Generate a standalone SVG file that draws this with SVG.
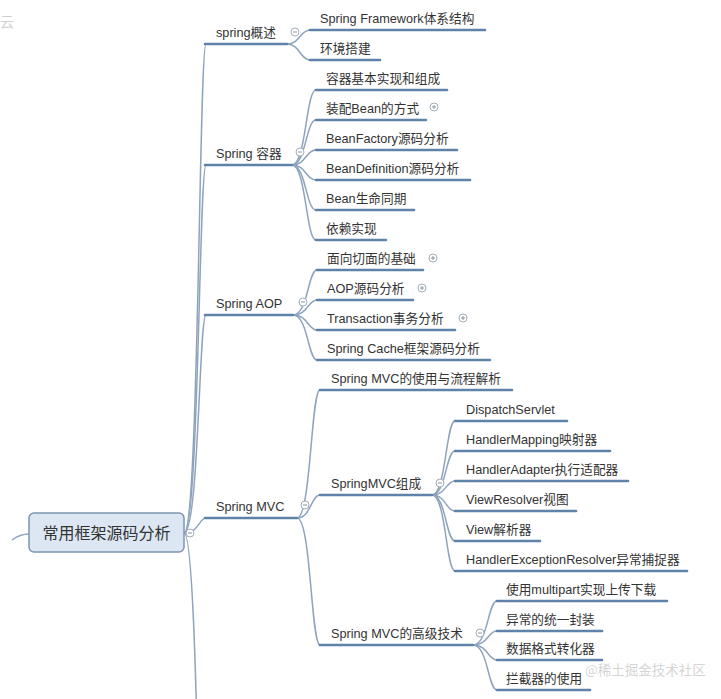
<svg xmlns="http://www.w3.org/2000/svg" width="721" height="699" viewBox="0 0 721 699">
<style>
.t{font-family:"Liberation Sans","Noto Sans CJK SC",sans-serif;font-size:12.7px;fill:#333}
.r{font-family:"Liberation Sans","Noto Sans CJK SC",sans-serif;font-size:16px;fill:#333}
.u{stroke:#5f82a8;stroke-width:2.6;fill:none;stroke-linecap:round}
.c{stroke:#8ea4bd;stroke-width:1.5;fill:none}
.b{fill:#fff;stroke:#a3adb8;stroke-width:1}
.bm{stroke:#8a96a3;stroke-width:1;fill:none}
.wm{font-family:"Noto Sans CJK SC",sans-serif;fill:#cfcfcf}
</style>
<defs>
<g id="minus"><circle class="b" r="4"/><path class="bm" d="M-2,0H2"/></g>
<g id="plus"><circle class="b" r="4"/><path class="bm" d="M-2,0H2M0,-2V2"/></g>
</defs>
<rect width="721" height="699" fill="#fff"/>
<text class="wm" x="0" y="27" font-size="14">云</text>

<g id="connectors">
<path class="c" d="M12,540 Q20,534 29,534"/>
<path class="c" d="M184,533 C199,533 199,44 206,44"/>
<path class="c" d="M184,533 C199,533 199,165 206,165"/>
<path class="c" d="M184,533 C199,533 199,315 206,315"/>
<path class="c" d="M184,533 C199,533 199,518 206,518"/>
<path class="c" d="M184,533 C199,533 199,1000 206,1000"/>
<path class="c" d="M287,44 C300,44 300,30 310,30"/>
<path class="c" d="M287,44 C300,44 300,60 310,60"/>
<path class="c" d="M292,165 C306,165 306,90 316,90"/>
<path class="c" d="M292,165 C306,165 306,120 316,120"/>
<path class="c" d="M292,165 C306,165 306,150 316,150"/>
<path class="c" d="M292,165 C306,165 306,180 316,180"/>
<path class="c" d="M292,165 C306,165 306,210 316,210"/>
<path class="c" d="M292,165 C306,165 306,240 316,240"/>
<path class="c" d="M293,315 C308,315 308,270 317,270"/>
<path class="c" d="M293,315 C308,315 308,300 317,300"/>
<path class="c" d="M293,315 C308,315 308,330 317,330"/>
<path class="c" d="M293,315 C308,315 308,360 317,360"/>
<path class="c" d="M297,518 C311,518 311,390 320,390"/>
<path class="c" d="M297,518 C311,518 311,495 320,495"/>
<path class="c" d="M297,518 C311,518 311,645 320,645"/>
<path class="c" d="M432,495 C446,495 446,421 455,421"/>
<path class="c" d="M432,495 C446,495 446,451 455,451"/>
<path class="c" d="M432,495 C446,495 446,481 455,481"/>
<path class="c" d="M432,495 C446,495 446,511 455,511"/>
<path class="c" d="M432,495 C446,495 446,541 455,541"/>
<path class="c" d="M432,495 C446,495 446,571 455,571"/>
<path class="c" d="M473,645 C488,645 488,601 497,601"/>
<path class="c" d="M473,645 C488,645 488,631 497,631"/>
<path class="c" d="M473,645 C488,645 488,660 497,660"/>
<path class="c" d="M473,645 C488,645 488,690 497,690"/>
</g>

<g id="root">
<rect x="29" y="513" width="155" height="39" rx="5" fill="#dce7f3" stroke="#7d95b0" stroke-width="1.5"/>
<text class="r" x="106.5" y="539" text-anchor="middle">常用框架源码分析</text>
<use href="#minus" x="190" y="533"/>
</g>

<g id="n-spring-overview"><text class="t" x="216" y="37">spring概述</text><path class="u" d="M205,44H287"/><use href="#minus" x="295" y="32"/></g>
<g id="n-spring-container"><text class="t" x="216" y="158">Spring 容器</text><path class="u" d="M205,165H292"/><use href="#minus" x="300" y="152"/></g>
<g id="n-spring-aop"><text class="t" x="216" y="308">Spring AOP</text><path class="u" d="M205,315H293"/><use href="#minus" x="303" y="302"/></g>
<g id="n-spring-mvc"><text class="t" x="216" y="511">Spring MVC</text><path class="u" d="M205,518H297"/><use href="#minus" x="305" y="505"/></g>

<g id="n-framework"><text class="t" x="320" y="23">Spring Framework体系结构</text><path class="u" d="M310,30H485"/></g>
<g id="n-env"><text class="t" x="320" y="53">环境搭建</text><path class="u" d="M310,60H380"/></g>

<g id="n-c1"><text class="t" x="326" y="83">容器基本实现和组成</text><path class="u" d="M316,90H447"/></g>
<g id="n-c2"><text class="t" x="326" y="113">装配Bean的方式</text><path class="u" d="M316,120H426"/><use href="#plus" x="434" y="107"/></g>
<g id="n-c3"><text class="t" x="326" y="143">BeanFactory源码分析</text><path class="u" d="M316,150H457"/></g>
<g id="n-c4"><text class="t" x="326" y="173">BeanDefinition源码分析</text><path class="u" d="M316,180H470"/></g>
<g id="n-c5"><text class="t" x="326" y="203">Bean生命同期</text><path class="u" d="M316,210H414"/></g>
<g id="n-c6"><text class="t" x="326" y="233">依赖实现</text><path class="u" d="M316,240H386"/></g>

<g id="n-a1"><text class="t" x="327" y="263">面向切面的基础</text><path class="u" d="M317,270H423"/><use href="#plus" x="433" y="258"/></g>
<g id="n-a2"><text class="t" x="327" y="293">AOP源码分析</text><path class="u" d="M317,300H413"/><use href="#plus" x="422" y="288"/></g>
<g id="n-a3"><text class="t" x="327" y="323">Transaction事务分析</text><path class="u" d="M317,330H455"/><use href="#plus" x="463" y="318"/></g>
<g id="n-a4"><text class="t" x="327" y="353">Spring Cache框架源码分析</text><path class="u" d="M317,360H490"/></g>

<g id="n-m1"><text class="t" x="331" y="383">Spring MVC的使用与流程解析</text><path class="u" d="M320,390H512"/></g>
<g id="n-m2"><text class="t" x="331" y="488">SpringMVC组成</text><path class="u" d="M320,495H432"/><use href="#minus" x="440" y="483"/></g>
<g id="n-m3"><text class="t" x="331" y="638">Spring MVC的高级技术</text><path class="u" d="M320,645H473"/><use href="#minus" x="480" y="633"/></g>

<g id="n-k1"><text class="t" x="466" y="414">DispatchServlet</text><path class="u" d="M455,421H567"/></g>
<g id="n-k2"><text class="t" x="466" y="444">HandlerMapping映射器</text><path class="u" d="M455,451H610"/></g>
<g id="n-k3"><text class="t" x="466" y="474">HandlerAdapter执行适配器</text><path class="u" d="M455,481H628"/></g>
<g id="n-k4"><text class="t" x="466" y="504">ViewResolver视图</text><path class="u" d="M455,511H576"/></g>
<g id="n-k5"><text class="t" x="466" y="534">View解析器</text><path class="u" d="M455,541H540"/></g>
<g id="n-k6"><text class="t" x="466" y="564">HandlerExceptionResolver异常捕捉器</text><path class="u" d="M455,571H687"/></g>

<g id="n-h1"><text class="t" x="506" y="594">使用multipart实现上传下载</text><path class="u" d="M497,601H667"/></g>
<g id="n-h2"><text class="t" x="506" y="624">异常的统一封装</text><path class="u" d="M497,631H602"/></g>
<g id="n-h3"><text class="t" x="506" y="653">数据格式转化器</text><path class="u" d="M497,660H602"/></g>
<g id="n-h4"><text class="t" x="506" y="683">拦截器的使用</text><path class="u" d="M497,690H590"/></g>

<text class="wm" x="585" y="675" font-size="13.5" fill-opacity="0.9">@稀土掘金技术社区</text>
</svg>
